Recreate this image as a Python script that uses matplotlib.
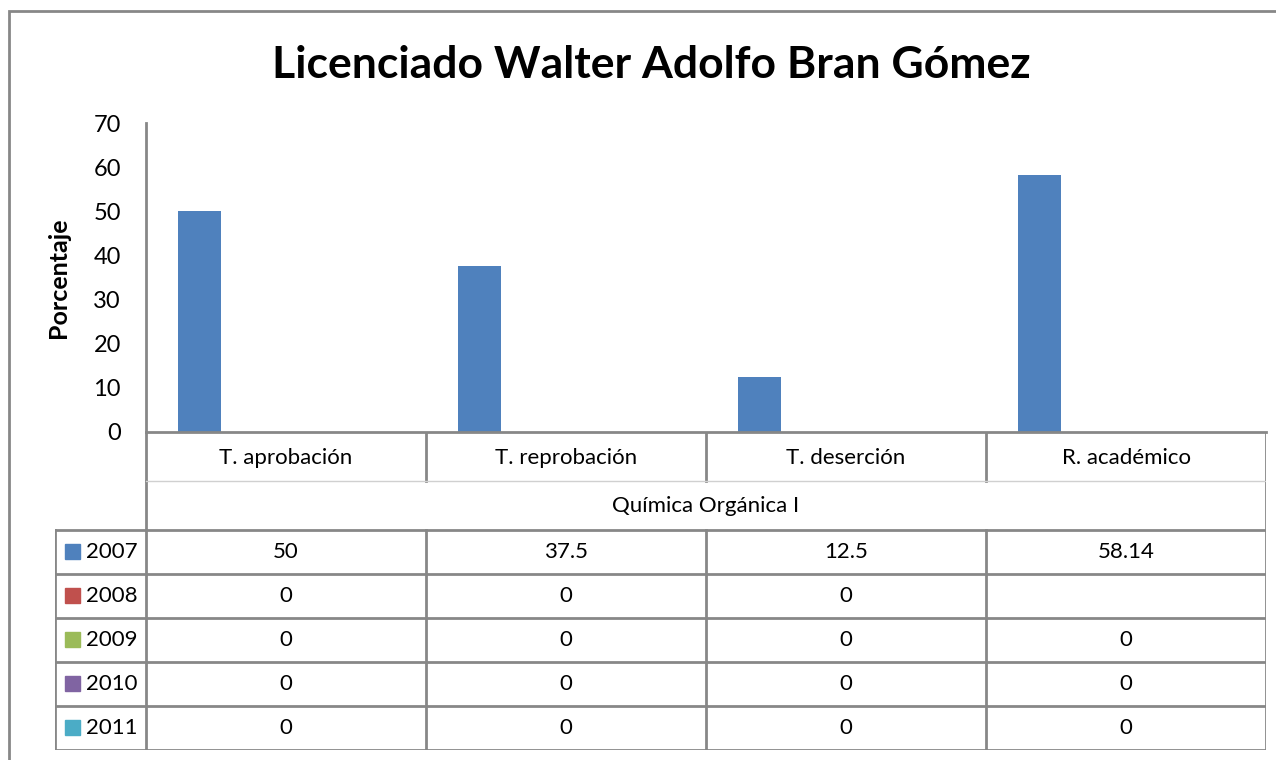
import matplotlib.pyplot as plt
from matplotlib.patches import Rectangle
import numpy as np

plt.rcParams['font.family'] = ['Lato', 'DejaVu Sans']

categories = ["T. aprobación", "T. reprobación", "T. deserción", "R. académico"]
group_label = "Química Orgánica I"
years = ["2007", "2008", "2009", "2010", "2011"]
colors = ["#4F81BD", "#C0504D", "#9BBB59", "#8064A2", "#4BACC6"]
v2007 = [50, 37.5, 12.5, 58.14]
v2008 = [0, 0, 0, None]
v2009 = [0, 0, 0, 0]
v2010 = [0, 0, 0, 0]
v2011 = [0, 0, 0, 0]
series = [v2007, v2008, v2009, v2010, v2011]

W, H = 1276, 760
fig = plt.figure(figsize=(W / 100, H / 100), dpi=100)
grid = "#878787"
fs = 16

def px(x0, y0, x1, y1):
    # pixel box (top-left origin) -> figure fraction rect
    return [x0 / W, 1 - y1 / H, (x1 - x0) / W, (y1 - y0) / H]

# outer frame
fig.patches.append(Rectangle((9 / W, -0.1), 1.2, 1 - 11 / H + 0.1,
                             transform=fig.transFigure, fill=False,
                             edgecolor=grid, linewidth=2))

fig.text(651 / W, 1 - 65 / H, "Licenciado Walter Adolfo Bran Gómez",
         ha="center", va="center", fontsize=32, fontweight="bold")

# bar area
ax = fig.add_axes(px(146, 123, 1266, 432))
n = len(series)
bw = 1 / (n + 1.5)
for k, vals in enumerate(series):
    xs, hs = [], []
    for i, v in enumerate(vals):
        if v is not None:
            xs.append(i + 0.75 * bw + k * bw)
            hs.append(v)
    ax.bar(xs, hs, width=bw, align="edge", color=colors[k])
ax.set_xlim(0, len(categories))
ax.set_ylim(0, 70)
ax.set_yticks(np.arange(0, 71, 10))
ax.set_xticks([])
ax.tick_params(axis="y", length=0, pad=18, labelsize=17)
for s in ["top", "right"]:
    ax.spines[s].set_visible(False)
ax.spines["left"].set_color(grid)
ax.spines["bottom"].set_color(grid)
ax.spines["left"].set_linewidth(2)
ax.spines["bottom"].set_linewidth(2)
ax.set_ylabel("Porcentaje", fontsize=18, fontweight="bold")
ax.yaxis.set_label_coords(-76 / 1120, 0.5)

# data table under the axis
tb = fig.add_axes(px(55, 432, 1266, 750))
tb.set_xlim(55, 1266)
tb.set_ylim(750, 432)
tb.axis("off")
col_x = [146 + 280 * i for i in range(len(categories) + 1)]
row_y = [530 + 44 * r for r in range(len(years) + 1)]
lk = dict(color=grid, linewidth=2, solid_capstyle="projecting")

for x in col_x:
    tb.plot([x, x], [432, 481], **lk)
tb.plot([146, 146], [481, 530], **lk)
tb.plot([1266, 1266], [481, 530], **lk)
tb.plot([146, 1266], [481, 481], color="#d0d0d0", linewidth=1)
tb.plot([55, 55], [530, 750], **lk)
for x in col_x:
    tb.plot([x, x], [530, 750], **lk)
for y in row_y:
    tb.plot([55, 1266], [y, y], **lk)

for i, c in enumerate(categories):
    tb.text(col_x[i] + 140, 458, c, ha="center", va="center", fontsize=fs)
tb.text(706, 506, group_label, ha="center", va="center", fontsize=fs)

for r, (yr, vals) in enumerate(zip(years, series)):
    yc = row_y[r] + 22
    tb.add_patch(Rectangle((65, yc - 8), 15, 15, color=colors[r]))
    tb.text(86, yc, yr, ha="left", va="center", fontsize=fs)
    for i, v in enumerate(vals):
        if v is not None:
            tb.text(col_x[i] + 140, yc, f"{v:g}", ha="center", va="center",
                    fontsize=fs)

fig.savefig("out.png", dpi=100)
